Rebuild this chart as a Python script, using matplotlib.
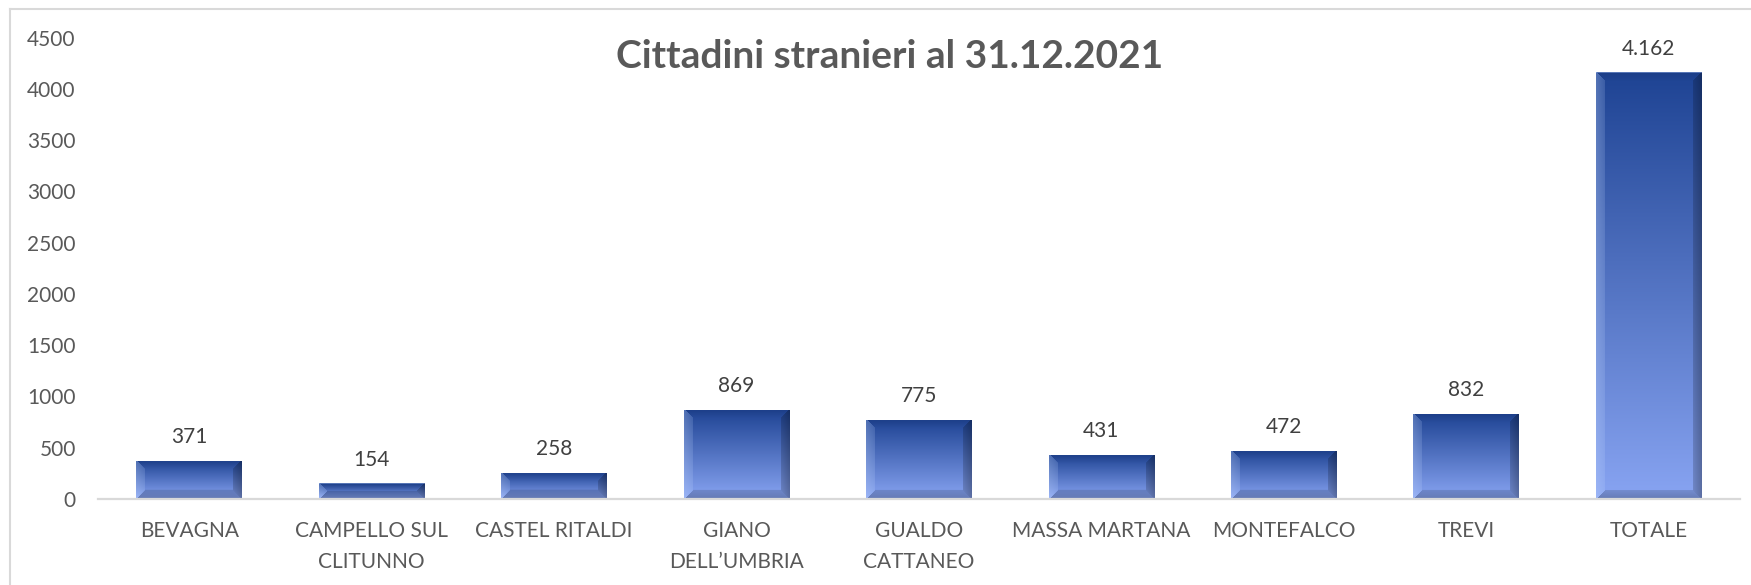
import numpy as np
import matplotlib
matplotlib.use("Agg")
import matplotlib.pyplot as plt
from matplotlib.lines import Line2D

categories = ["BEVAGNA", "CAMPELLO SUL\nCLITUNNO", "CASTEL RITALDI", "GIANO\nDELL\u2019UMBRIA",
              "GUALDO\nCATTANEO", "MASSA MARTANA", "MONTEFALCO", "TREVI", "TOTALE"]
values = [371, 154, 258, 869, 775, 431, 472, 832, 4162]
value_labels = ["371", "154", "258", "869", "775", "431", "472", "832", "4.162"]
yticks = [0, 500, 1000, 1500, 2000, 2500, 3000, 3500, 4000, 4500]
title = "Cittadini stranieri al 31.12.2021"

plt.rcParams['font.family'] = ['Lato', 'DejaVu Sans']

W, H, DPI = 1751, 585, 100
fig = plt.figure(figsize=(W / DPI, H / DPI), dpi=DPI)
ax = fig.add_axes([98 / W, 1 - 499 / H, (1740 - 98) / W, (499 - 37.6) / H])

x = np.arange(len(values))
bars = ax.bar(x, values, width=0.58, color="none", edgecolor="none", zorder=2)
ax.set_xlim(-0.5, len(values) - 0.5)
ax.set_ylim(0, 4500)
ax.set_yticks(yticks)
ax.set_yticklabels([str(t) for t in yticks], fontsize=15, color="#595959")
ax.set_xticks(x)
ax.set_xticklabels(categories, fontsize=15, color="#595959", linespacing=1.68)
ax.tick_params(axis="both", length=0)
ax.tick_params(axis="y", pad=16)
ax.tick_params(axis="x", pad=16)
for s in ["left", "right", "top"]:
    ax.spines[s].set_visible(False)
ax.spines["bottom"].set_color("#D9D9D9")
ax.spines["bottom"].set_linewidth(1.6)
ax.spines["bottom"].set_zorder(3)

# bevel gradient fills
top_c = np.array([0x1E, 0x43, 0x93]) / 255.0
bot_c = np.array([0x88, 0xA4, 0xF2]) / 255.0
fig.canvas.draw()
to_px = ax.transData
for rect in bars:
    x0, y0 = rect.get_x(), rect.get_y()
    w, h = rect.get_width(), rect.get_height()
    (px0, py0) = to_px.transform((x0, y0))
    (px1, py1) = to_px.transform((x0 + w, y0 + h))
    pw = max(int(round(px1 - px0)), 2)
    ph = max(int(round(py1 - py0)), 2)
    t = np.linspace(0, 1, ph)[:, None, None]
    img = np.broadcast_to(top_c * (1 - t) + bot_c * t, (ph, pw, 3)).copy()
    b = 9
    yy, xx = np.mgrid[0:ph, 0:pw]
    dl = xx
    dr = pw - 1 - xx
    dt = yy
    db = ph - 1 - yy
    dmin = np.minimum(np.minimum(dl, dr), np.minimum(dt, db))
    inb = dmin < b
    fade = (1 - dmin / b)[..., None]
    left = inb & (dl == dmin)
    right = inb & (dr == dmin) & ~left
    top = inb & (dt == dmin) & ~left & ~right
    bottom = inb & (db == dmin) & ~left & ~right & ~top
    light = np.array([0.78, 0.86, 1.0])
    img = np.where(left[..., None], img * (1 - 0.3 * (0.5 + 0.5 * fade)) + light * 0.3 * (0.5 + 0.5 * fade), img)
    img = np.where(right[..., None], img * (1 - 0.32 * (0.5 + 0.5 * fade)), img)
    img = np.where(top[..., None], img * (1 - 0.08 * fade), img)
    img = np.where(bottom[..., None], img * (1 - 0.25 * (0.5 + 0.5 * fade)), img)
    img[0, :, :] = img[0, :, :] * 0.6 + 0.4 * np.array([0.7, 0.8, 1.0])
    im = ax.imshow(np.clip(img, 0, 1), extent=(x0, x0 + w, y0, y0 + h), aspect="auto",
                   interpolation="bilinear", zorder=2)
    im.set_clip_path(rect)

ax.set_xlim(-0.5, len(values) - 0.5)
ax.set_ylim(0, 4500)

for xi, v, lab in zip(x, values, value_labels):
    ax.annotate(lab, (xi, v), xytext=(0, 17), textcoords="offset points",
                ha="center", va="center", fontsize=15, color="#404040")

fig.text(890 / W, 1 - 56 / H, title, ha="center", va="center",
         fontsize=28, fontweight="bold", color="#595959")

# chart-area border (top and left visible)
fig.add_artist(Line2D([10 / W, 10 / W], [0, 1 - 9 / H], transform=fig.transFigure,
                      color="#D9D9D9", lw=1.5))
fig.add_artist(Line2D([10 / W, 1], [1 - 9 / H, 1 - 9 / H], transform=fig.transFigure,
                      color="#D9D9D9", lw=1.5))

fig.savefig("out.png", dpi=DPI, facecolor="white")
